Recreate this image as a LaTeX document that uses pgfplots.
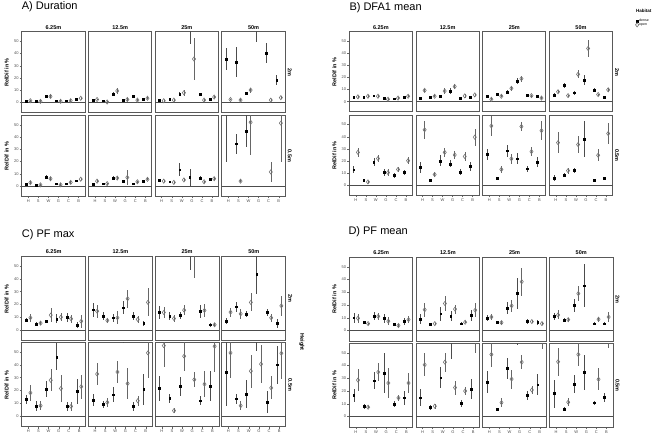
\documentclass[border=0pt]{standalone}
\usepackage{pgfplots}
\pgfplotsset{compat=1.18}
\usepackage{fontspec}
\setmainfont{Liberation Sans}
\pgfplotsset{
 facet/.style={scale only axis, anchor=north west, xmin=0.35, xmax=6.65, ymin=-8.5, ymax=57.5,
   axis line style={draw=black!65, line width=1pt}, tick align=outside, tick pos=left,
   major tick length=2pt, tick style={black!60, line width=0.4pt}, xtick=\empty, ytick=\empty,
   ticklabel style={font=\fontsize{4}{4}\selectfont, text=black!70, inner sep=1pt},
   /pgf/number format/assume math mode=true, clip mode=individual},
 ycol/.style={ytick={0,10,...,50}},
 xrow/.style={xtick={1,...,6}, xticklabels={H,S,W,G,C,B}},
 zeroline/.style={black!70, line width=0.5pt, forget plot},
 dstyle/.style={only marks, mark=square*, mark size=0.9pt, mark options={black, fill=black},
   x filter/.expression={x-0.21},
   error bars/.cd, y dir=both, y explicit, error mark=none, error bar style={black!70, line width=0.5pt}},
 ostyle/.style={only marks, mark=diamond, mark size=2.1pt, mark options={draw=black!55, fill=none, line width=0.6pt},
   x filter/.expression={x+0.21},
   error bars/.cd, y dir=both, y explicit, error mark=none, error bar style={black!60, line width=0.5pt}},
}
\newcommand{\facet}[6]{\begin{axis}[facet, at={(#1pt,-#2pt)}, width=#3pt, height=#4pt, #5]
\addplot[zeroline] coordinates {(0.35,0) (6.65,0)};
#6
\end{axis}}
\newcommand{\dense}[1]{\addplot[dstyle] coordinates {#1};}
\newcommand{\open}[1]{\addplot[ostyle] coordinates {#1};}
\newcommand{\strip}[1]{\node[font=\bfseries\fontsize{5.5}{6}\selectfont, anchor=base, inner sep=0pt, yshift=2.8pt] at (rel axis cs:0.5,1) {#1};}
\newcommand{\rowlab}[1]{\node[font=\bfseries\fontsize{5.5}{6}\selectfont, xshift=2.5pt, rotate=-90, anchor=base, inner sep=0pt] at (rel axis cs:1,0.5) {#1};}
\newcommand{\ylab}{\node[font=\bfseries\fontsize{5.5}{6}\selectfont, xshift=-13pt, rotate=90, anchor=base, inner sep=0pt] at (rel axis cs:0,0.5) {RelDif in \%};}
\begin{document}
\begin{tikzpicture}
\useasboundingbox (0,0) rectangle (662pt,-438pt);
% titles
\node[anchor=west, inner sep=0pt, font=\fontsize{11}{13}\selectfont] at (21.7pt,-6.8pt) {A) Duration};
\node[anchor=west, inner sep=0pt, font=\fontsize{11}{13}\selectfont] at (349.3pt,-7.2pt) {B) DFA1 mean};
\node[anchor=west, inner sep=0pt, font=\fontsize{11}{13}\selectfont] at (21.7pt,-234.5pt) {C) PF max};
\node[anchor=west, inner sep=0pt, font=\fontsize{11}{13}\selectfont] at (348.3pt,-232pt) {D) PF mean};
\node[anchor=west, inner sep=0pt, font=\bfseries\fontsize{4.5}{5}\selectfont] at (636pt,-11pt) {Habitat};
\node[rotate=-90, inner sep=0pt, font=\bfseries\fontsize{5.5}{6}\selectfont] at (301.7pt,-342pt) {Height};

%%%%%%%%%%%%%%%% A) Duration
\facet{21.7}{32}{63.5}{81}{ycol}{\strip{6.25m}\ylab
 \dense{(1,1) +- (0,0.5) (2,1) +- (0,0.5) (3,5) +- (0,1.5) (4,1.5) +- (0,0.7) (5,1.5) +- (0,0.7) (6,3) +- (0,0.7)}
 \open{(1,1.5) +- (0,0.7) (2,1) +- (0,0.7) (3,5) +- (0,1.2) (4,1) +- (0,1) (5,1.5) +- (0,1) (6,3.5) +- (0,0.8)}}
\facet{88.4}{32}{63.5}{81}{}{\strip{12.5m}
 \dense{(1,2) +- (0,0.6) (2,1.5) +- (0,0.5) (3,7) +- (0,2) (4,2) +- (0,0.7) (5,5) +- (0,0.8) (6,3) +- (0,0.6)}
 \open{(1,2.5) +- (0,0.8) (2,0.5) +- (0,0.6) (3,9.5) +- (0,2.5) (4,2.5) +- (0,1) (5,2) +- (0,1) (6,3.5) +- (0,0.8)}}
\facet{155.1}{32}{63.5}{81}{}{\strip{25m}
 \dense{(1,2) +- (0,0.5) (2,3) +- (0,0.6) (3,7) +- (0,2) (4,62) +- (0,14) (5,7) +- (0,1) (6,3) +- (0,0.6)}
 \open{(1,1.5) +- (0,0.8) (2,2) +- (0,1) (3,8) +- (0,2.5) (4,35.5) +- (0,17.5) (5,2) +- (0,1) (6,4.5) +- (0,1)}}
\facet{221.8}{32}{63.5}{81}{}{\strip{50m}\rowlab{2m}
 \dense{(1,35.5) +- (0,9) (2,33) +- (0,12.5) (3,7.5) +- (0,1.5) (4,62) +- (0,13) (5,40.5) +- (0,8) (6,18.5) +- (0,4)}
 \open{(1,2.5) +- (0,0.8) (2,2) +- (0,0.8) (3,10.2) +- (0,2) (5,2) +- (0,0.8) (6,4) +- (0,1)}}
\facet{21.7}{115.5}{63.5}{81}{ycol,xrow}{\ylab
 \dense{(1,1.5) +- (0,0.5) (2,1) +- (0,0.5) (3,7.5) +- (0,1.5) (4,2) +- (0,0.7) (5,2) +- (0,0.6) (6,4.3) +- (0,0.6)}
 \open{(1,2.8) +- (0,1) (2,1) +- (0,0.7) (3,6) +- (0,1.5) (4,1) +- (0,1.2) (5,3) +- (0,1) (6,5.6) +- (0,1)}}
\facet{88.4}{115.5}{63.5}{81}{xrow}{
 \dense{(1,1.5) +- (0,0.5) (2,2) +- (0,0.5) (3,6.5) +- (0,1.5) (4,4) +- (0,0.7) (5,2) +- (0,0.6) (6,4) +- (0,0.6)}
 \open{(1,4) +- (0,0.8) (2,2) +- (0,0.8) (3,6.5) +- (0,1.5) (4,7) +- (0,6) (5,3.5) +- (0,0.8) (6,5.5) +- (0,0.8)}}
\facet{155.1}{115.5}{63.5}{81}{xrow}{
 \dense{(1,4.5) +- (0,1) (2,3.5) +- (0,1) (3,13.4) +- (0,5) (4,7.2) +- (0,7) (5,6.5) +- (0,1.5) (6,5.5) +- (0,1)}
 \open{(1,4) +- (0,1) (2,3) +- (0,1) (3,5) +- (0,1) (5,3.5) +- (0,0.8) (6,6) +- (0,1)}}
\facet{221.8}{115.5}{63.5}{81}{xrow}{\rowlab{0.5m}
 \dense{(1,58) +- (0,38) (2,34.5) +- (0,8) (3,45) +- (0,13)}
 \open{(2,4) +- (0,1) (3,52) +- (0,27) (5,11.5) +- (0,8.3) (6,51.3) +- (0,32)}}

%%%%%%%%%%%%%%%% B) DFA1 mean
\facet{349.3}{32}{63.2}{80}{ycol}{\strip{6.25m}\ylab
 \dense{(1,3.5) +- (0,0.6) (2,3.5) +- (0,0.5) (3,5) +- (0,0.7) (4,3) +- (0,0.6) (5,2.5) +- (0,0.6) (6,4) +- (0,0.6)}
 \open{(1,4) +- (0,1) (2,4.5) +- (0,1) (3,4.5) +- (0,0.8) (4,2) +- (0,1) (5,3) +- (0,1) (6,4.5) +- (0,1)}}
\facet{416.0}{32}{63.2}{80}{}{\strip{12.5m}
 \dense{(1,3.2) +- (0,0.7) (2,4) +- (0,0.5) (3,4.8) +- (0,0.8) (4,8.5) +- (0,2.5) (5,2.9) +- (0,1) (6,3.5) +- (0,0.6)}
 \open{(1,9.3) +- (0,1) (2,4.5) +- (0,0.8) (3,8.8) +- (0,2.5) (4,12.5) +- (0,2) (5,4.8) +- (0,1.5) (6,5.6) +- (0,0.8)}}
\facet{482.7}{32}{63.2}{80}{}{\strip{25m}
 \dense{(1,4.5) +- (0,0.8) (2,6) +- (0,0.8) (3,8) +- (0,2) (4,17) +- (0,2.5) (5,5.5) +- (0,0.8) (6,4.5) +- (0,1)}
 \open{(1,2) +- (0,1) (2,4.5) +- (0,1) (3,11) +- (0,2) (4,19) +- (0,2.5) (5,5) +- (0,0.8) (6,3) +- (0,1)}}
\facet{549.4}{32}{63.2}{80}{legend style={at={(1.36,1.17)}, anchor=north west, draw=none, fill=none, inner sep=0pt, font=\fontsize{3.5}{3.5}\selectfont, row sep=-1pt, nodes={inner sep=0.5pt}}, legend cell align=left}{\strip{50m}\rowlab{2m}
 \dense{(1,5.6) +- (0,1.5) (2,13.3) +- (0,2) (3,7.4) +- (0,1.5) (4,17.8) +- (0,4.3) (5,9.6) +- (0,1.5) (6,3.7) +- (0,0.6)}
 \addlegendentry{dense}
 \open{(1,8.2) +- (0,1.2) (2,5) +- (0,0.8) (3,22.6) +- (0,3.3) (4,43.9) +- (0,7.3) (5,5.9) +- (0,0.8) (6,9.8) +- (0,1.5)}
 \addlegendentry{open}}
\facet{349.3}{115.5}{63.2}{80}{ycol,xrow}{\ylab
 \dense{(1,12.8) +- (0,3) (2,4) +- (0,0.6) (3,19.1) +- (0,3) (4,10.4) +- (0,3) (5,8) +- (0,2) (6,10.4) +- (0,2)}
 \open{(1,27.1) +- (0,3.5) (2,2.7) +- (0,0.8) (3,22) +- (0,3) (4,10.4) +- (0,3) (5,13) +- (0,2) (6,20.2) +- (0,3)}}
\facet{416.0}{115.5}{63.2}{80}{xrow}{
 \dense{(1,14.6) +- (0,4.5) (2,4.3) +- (0,0.6) (3,20) +- (0,4.5) (4,17.6) +- (0,3) (5,10.6) +- (0,2.5) (6,15.4) +- (0,3.5)}
 \open{(1,45.7) +- (0,7.5) (2,8.8) +- (0,2) (3,27.1) +- (0,3.5) (4,25) +- (0,3) (5,23.7) +- (0,3.5) (6,39.6) +- (0,7)}}
\facet{482.7}{115.5}{63.2}{80}{xrow}{
 \dense{(1,25.3) +- (0,4.5) (2,5.6) +- (0,0.8) (3,28.5) +- (0,5) (4,21.8) +- (0,4.5) (5,13.6) +- (0,2.5) (6,19.1) +- (0,4)}
 \open{(1,48.9) +- (0,8) (2,13) +- (0,3) (3,21.8) +- (0,4) (4,48.4) +- (0,4) (5,27.7) +- (0,3.5) (6,45) +- (0,8)}}
\facet{549.4}{115.5}{63.2}{80}{xrow}{\rowlab{0.5m}
 \dense{(1,6.1) +- (0,2.5) (2,8.2) +- (0,1.5) (3,12.2) +- (0,2) (4,38) +- (0,15) (5,4.3) +- (0,0.6) (6,5.6) +- (0,0.8)}
 \open{(1,35.1) +- (0,8.5) (2,12) +- (0,2.5) (3,33.5) +- (0,7) (4,59.5) +- (0,1.5) (5,24.7) +- (0,5) (6,42.6) +- (0,9)}}

%%%%%%%%%%%%%%%% C) PF max
\facet{21.7}{256.7}{64}{84}{ycol}{\strip{6.25m}\ylab
 \dense{(1,7.9) +- (0,1.5) (2,4.7) +- (0,1.5) (3,6.6) +- (0,1) (4,8.7) +- (0,3.5) (5,9.7) +- (0,3.5) (6,3.7) +- (0,2.5)}
 \open{(1,9.5) +- (0,3) (2,5.3) +- (0,1.5) (3,11.6) +- (0,5.5) (4,10) +- (0,3) (5,8.7) +- (0,3) (6,6.8) +- (0,5)}}
\facet{88.4}{256.7}{64}{84}{}{\strip{12.5m}
 \dense{(1,15.8) +- (0,5.5) (2,10.8) +- (0,3) (3,9.5) +- (0,3) (4,17.4) +- (0,5) (5,10.8) +- (0,3) (6,5) +- (0,2)}
 \open{(1,14.7) +- (0,5) (2,7.4) +- (0,2) (3,9.5) +- (0,5) (4,24.5) +- (0,7) (5,8.2) +- (0,3) (6,21.6) +- (0,11)}}
\facet{155.1}{256.7}{64}{84}{}{\strip{25m}
 \dense{(1,13.9) +- (0,5) (2,10.8) +- (0,3) (3,11.3) +- (0,2.5) (4,62) +- (0,15) (5,14.5) +- (0,5) (6,4) +- (0,1.5)}
 \open{(1,13.7) +- (0,4) (2,8.9) +- (0,3) (3,15.5) +- (0,4) (4,62) +- (0,21) (5,15.3) +- (0,5) (6,4) +- (0,1.5)}}
\facet{221.8}{256.7}{64}{84}{}{\strip{50m}\rowlab{2m}
 \dense{(1,6.8) +- (0,2.5) (2,18.2) +- (0,4) (3,12.4) +- (0,2.5) (4,44) +- (0,16) (5,13.7) +- (0,3) (6,5.3) +- (0,3.5)}
 \open{(1,13.9) +- (0,3.5) (2,12.6) +- (0,4) (3,21.6) +- (0,7) (5,9.5) +- (0,3) (6,18.9) +- (0,8)}}
\facet{21.7}{342.7}{64}{84}{ycol,xrow}{\ylab
 \dense{(1,13) +- (0,3.5) (2,7.8) +- (0,4) (3,21) +- (0,6.5) (4,46.4) +- (0,10.5) (5,7.5) +- (0,3.5) (6,19.2) +- (0,10)}
 \open{(1,18.1) +- (0,6.5) (2,8) +- (0,3.5) (3,28) +- (0,8.5) (4,21.5) +- (0,10.5) (5,7.5) +- (0,3.5) (6,23) +- (0,9.5)}}
\facet{88.4}{342.7}{64}{84}{xrow}{
 \dense{(1,12.4) +- (0,5) (2,9) +- (0,3) (3,16.6) +- (0,6) (4,59) +- (0,1.5) (5,7.5) +- (0,3.5) (6,20.7) +- (0,12)}
 \open{(1,32.9) +- (0,9) (2,10.6) +- (0,3.5) (3,34.5) +- (0,9) (4,25.4) +- (0,12) (5,11.9) +- (0,4) (6,49.5) +- (0,20)}}
\facet{155.1}{342.7}{64}{84}{xrow}{
 \dense{(1,21.5) +- (0,9.5) (2,13.7) +- (0,3.5) (3,23.3) +- (0,7.5) (5,11.9) +- (0,3.5) (6,23.3) +- (0,12)}
 \open{(1,55.2) +- (0,17) (2,4.1) +- (0,2) (3,46.9) +- (0,12) (4,28.5) +- (0,6) (5,24.9) +- (0,10) (6,54.7) +- (0,20)}}
\facet{221.8}{342.7}{64}{84}{xrow}{\rowlab{0.5m}
 \dense{(1,34.5) +- (0,26.5) (2,13.5) +- (0,4) (3,16.8) +- (0,11) (4,62) +- (0,11) (5,10.9) +- (0,8.5) (6,40.2) +- (0,15)}
 \open{(1,49.5) +- (0,20) (2,8) +- (0,3.5) (3,35.2) +- (0,13) (4,40.7) +- (0,15) (5,22) +- (0,9) (6,49.2) +- (0,20)}}

%%%%%%%%%%%%%%%% D) PF mean
\facet{349.3}{257.3}{63.7}{84}{ycol}{\strip{6.25m}\ylab
 \dense{(1,10.1) +- (0,4) (2,6.2) +- (0,1) (3,11.4) +- (0,3.5) (4,9.6) +- (0,3.5) (5,5.2) +- (0,1) (6,7) +- (0,2.5)}
 \open{(1,9.6) +- (0,3.5) (2,5.4) +- (0,0.8) (3,11.1) +- (0,3) (4,7.3) +- (0,3) (5,3.9) +- (0,1.5) (6,8.5) +- (0,3)}}
\facet{416.0}{257.3}{63.7}{84}{}{\strip{12.5m}
 \dense{(1,9) +- (0,4) (2,4.9) +- (0,0.8) (3,13.2) +- (0,5.5) (4,11.4) +- (0,4) (5,5.4) +- (0,1) (6,11.7) +- (0,4)}
 \open{(1,16.3) +- (0,5.5) (2,5.4) +- (0,0.8) (3,21.2) +- (0,6) (4,16.8) +- (0,3.5) (5,6.5) +- (0,1) (6,16) +- (0,5.5)}}
\facet{482.7}{257.3}{63.7}{84}{}{\strip{25m}
 \dense{(1,9.8) +- (0,2) (2,6.5) +- (0,1) (3,17.6) +- (0,5) (4,29) +- (0,12.5) (5,7) +- (0,2) (6,6.5) +- (0,2)}
 \open{(1,10.6) +- (0,2.5) (2,6.2) +- (0,1) (3,19.4) +- (0,4.5) (4,38.3) +- (0,11) (5,7) +- (0,1) (6,5.4) +- (0,1)}}
\facet{549.4}{257.3}{63.7}{84}{}{\strip{50m}\rowlab{2m}
 \dense{(1,11.1) +- (0,2.5) (2,8.3) +- (0,1.5) (3,19.9) +- (0,5) (4,35.2) +- (0,17) (5,5.4) +- (0,1) (6,5.4) +- (0,1)}
 \open{(1,12.2) +- (0,3.5) (2,8.5) +- (0,1.5) (3,29) +- (0,6) (5,8.8) +- (0,2) (6,10.6) +- (0,4)}}
\facet{349.3}{343.3}{63.7}{84}{ycol,xrow}{\ylab
 \dense{(1,16.7) +- (0,5) (2,8.1) +- (0,2) (3,28.1) +- (0,6.5) (4,34.1) +- (0,16) (5,9.6) +- (0,2.5) (6,14.8) +- (0,5.5)}
 \open{(1,28.6) +- (0,8.5) (2,7.3) +- (0,1) (3,34.9) +- (0,7) (4,26.3) +- (0,11.5) (5,14.6) +- (0,2.5) (6,26.3) +- (0,7.5)}}
\facet{416.0}{343.3}{63.7}{84}{xrow}{
 \dense{(1,14.8) +- (0,6.5) (2,7.3) +- (0,2) (3,30.5) +- (0,8) (4,62) +- (0,17) (5,10.2) +- (0,3) (6,21.6) +- (0,8)}
 \open{(1,40.6) +- (0,9) (2,8.1) +- (0,2) (3,42.7) +- (0,7.5) (4,22.7) +- (0,5.5) (5,20) +- (0,3.5) (6,62) +- (0,12.5)}}
\facet{482.7}{343.3}{63.7}{84}{xrow}{
 \dense{(1,27.1) +- (0,8.5) (2,5.5) +- (0,1) (3,37.8) +- (0,8.5) (4,59) +- (0,2.5) (5,16.7) +- (0,3.5) (6,25) +- (0,8)}
 \open{(1,48.7) +- (0,10) (2,10.9) +- (0,3.5) (3,29.4) +- (0,7.5) (4,42.7) +- (0,5.5) (5,20.8) +- (0,3.5) (6,62) +- (0,9)}}
\facet{549.4}{343.3}{63.7}{84}{xrow}{\rowlab{0.5m}
 \dense{(1,18) +- (0,11) (2,6) +- (0,1.5) (3,25.5) +- (0,7) (4,34.6) +- (0,13.5) (5,10.9) +- (0,1.5) (6,15.1) +- (0,3.5)}
 \open{(1,43) +- (0,11) (2,11.2) +- (0,3) (3,48.7) +- (0,9) (5,29.2) +- (0,8.5) (6,62) +- (0,8.5)}}
\end{tikzpicture}
\end{document}
